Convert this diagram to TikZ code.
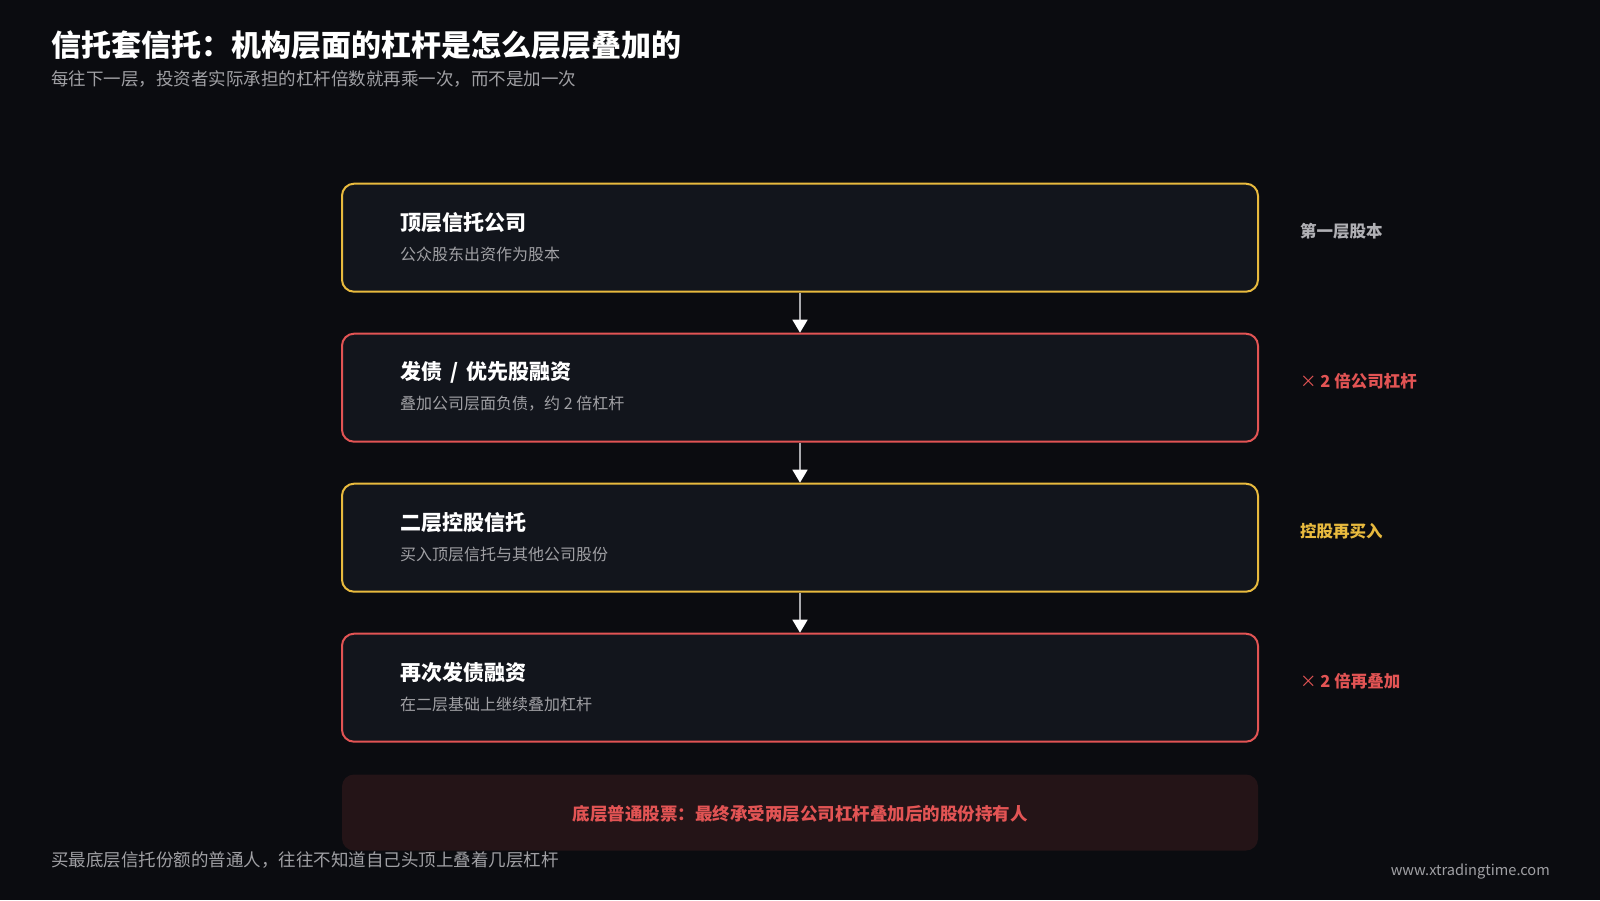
\documentclass[tikz,border=0pt]{standalone}
\usepackage{fontspec}
\setmainfont{Noto Sans CJK SC}
\usetikzlibrary{arrows.meta}
\definecolor{bg}{RGB}{11,12,16}
\definecolor{boxfill}{RGB}{18,21,28}
\definecolor{ylw}{RGB}{232,186,62}
\definecolor{rd}{RGB}{226,84,84}
\definecolor{botfill}{RGB}{36,20,23}
\definecolor{gtxt}{RGB}{160,160,164}
\definecolor{ltxt}{RGB}{176,176,180}
\definecolor{arr}{RGB}{170,170,174}
\tikzset{
  layer/.style={draw=#1, line width=2pt, fill=boxfill, rounded corners=12pt, minimum width=916pt, minimum height=108pt, inner sep=0pt},
  ltitle/.style={anchor=west, text=white, font=\fontsize{21}{24}\selectfont\bfseries, inner sep=0pt},
  lsub/.style={anchor=west, text=gtxt, font=\fontsize{16}{19}\selectfont, inner sep=0pt},
  side/.style={anchor=west, text=#1, font=\fontsize{16.5}{19}\selectfont\bfseries, inner sep=0pt},
  flow/.style={draw=arr, line width=1.5pt, -{Triangle[width=15pt,length=13pt,fill=white,color=white]}}
}
\begin{document}
\begin{tikzpicture}[x=1pt,y=-1pt]
\fill[bg] (0,0) rectangle (1600,900);
\useasboundingbox (0,0) rectangle (1600,900);
\node[anchor=west, text=white, font=\fontsize{30}{34}\selectfont\bfseries, inner sep=0pt] (title) at (51,45) {信托套信托：机构层面的杠杆是怎么层层叠加的};
\node[anchor=west, text=gtxt, font=\fontsize{17.5}{21}\selectfont, inner sep=0pt] (subtitle) at (51,79) {每往下一层，投资者实际承担的杠杆倍数就再乘一次，而不是加一次};

\node[layer=ylw] (b1) at (800,237.7) {};
\node[layer=rd] (b2) at (800,387.7) {};
\node[layer=ylw] (b3) at (800,537.7) {};
\node[layer=rd] (b4) at (800,687.7) {};

\node[ltitle] (t1) at (400,222.5) {顶层信托公司};
\node[lsub] (s1) at (400,254) {公众股东出资作为股本};
\node[ltitle] (t2) at (400,372.5) {发债\ \,/\ \,优先股融资};
\node[lsub] (s2) at (400,404) {叠加公司层面负债，约 2 倍杠杆};
\node[ltitle] (t3) at (400,522.5) {二层控股信托};
\node[lsub] (s3) at (400,554) {买入顶层信托与其他公司股份};
\node[ltitle] (t4) at (400,672.5) {再次发债融资};
\node[lsub] (s4) at (400,704) {在二层基础上继续叠加杠杆};

\node[side=ltxt] (r1) at (1300,231.5) {第一层股本};
\node[side=rd] (r2) at (1300,381.5) {{\mdseries ×} 2 倍公司杠杆};
\node[side=ylw] (r3) at (1300,531.5) {控股再买入};
\node[side=rd] (r4) at (1300,681.5) {{\mdseries ×} 2 倍再叠加};

\draw[flow] (b1.south) -- (b2.north);
\draw[flow] (b2.south) -- (b3.north);
\draw[flow] (b3.south) -- (b4.north);

\node[fill=botfill, rounded corners=12pt, minimum width=916pt, minimum height=76pt, inner sep=0pt] (bot) at (800,812.5) {};
\node[text=rd, font=\fontsize{17.5}{20}\selectfont\bfseries, inner sep=0pt] (bottxt) at (800,814) {底层普通股票：最终承受两层公司杠杆叠加后的股份持有人};

\node[anchor=west, text=gtxt, font=\fontsize{17.5}{20}\selectfont, inner sep=0pt] (foot) at (51,860.5) {买最底层信托份额的普通人，往往不知道自己头顶上叠着几层杠杆};
\node[anchor=east, text=gtxt, font=\fontsize{14.6}{18}\selectfont, inner sep=0pt] (url) at (1550,871.5) {www.xtradingtime.com};
\end{tikzpicture}
\end{document}
